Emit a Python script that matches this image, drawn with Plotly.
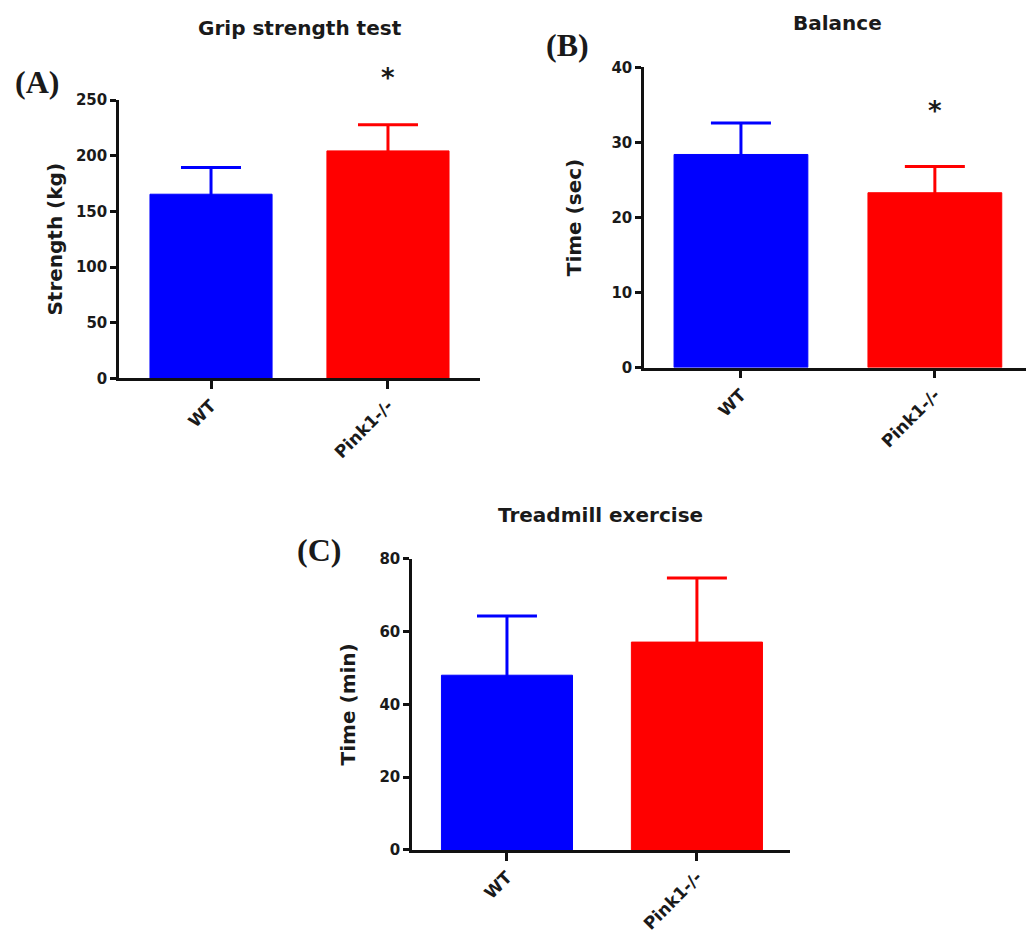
import plotly.graph_objects as go

categories = ["WT", "Pink1-/-"]
bar_colors = ["#0000ff", "#ff0000"]

grip_mean = [165.5, 204.4]
grip_sem = [24.0, 23.4]

balance_mean = [28.4, 23.3]
balance_sem = [4.2, 3.5]

treadmill_mean = [48.0, 57.1]
treadmill_sem = [16.3, 17.6]

grip_ticks = [0, 50, 100, 150, 200, 250]
balance_ticks = [0, 10, 20, 30, 40]
treadmill_ticks = [0, 20, 40, 60, 80]

# significance marker heights (data units)
grip_star = 269.6
balance_star = 34.2

FONT = "DejaVu Sans, Arial, sans-serif"
TXT = "#1a1a1a"
W, H = 1026, 934
VS, VOFF = 0.975, 9.0  # vertical compensation


def px(x):
    return x / W


def py(y):
    return 1 - ((y - VOFF) / VS) / H


fig = go.Figure()

panels = [
    ("x", "y", grip_mean, grip_sem),
    ("x2", "y2", balance_mean, balance_sem),
    ("x3", "y3", treadmill_mean, treadmill_sem),
]
for xa, ya, means, sems in panels:
    for cat, m, s, col in zip(categories, means, sems, bar_colors):
        fig.add_trace(go.Bar(
            x=[cat], y=[m], xaxis=xa, yaxis=ya,
            width=0.69,
            marker=dict(color=col, line=dict(color=col, width=1)),
            error_y=dict(type="data", symmetric=True, array=[s],
                         color=col, thickness=3, width=30),
            showlegend=False,
        ))


def xaxis_cfg(domain, rng, anchor):
    return dict(domain=domain, range=rng, anchor=anchor, type="category",
                showline=True, linecolor="#111", linewidth=2.5,
                ticks="outside", ticklen=8, tickwidth=2.5, tickcolor="#111",
                tickangle=-45, showgrid=False, zeroline=False,
                tickfont=dict(family=FONT, size=17, color=TXT, weight="bold"))


def yaxis_cfg(domain, rng, ticks, title, anchor, standoff):
    return dict(domain=domain, range=rng, anchor=anchor,
                tickvals=ticks, ticktext=[str(t) for t in ticks],
                showline=True, linecolor="#111", linewidth=2.5,
                ticks="outside", ticklen=6, tickwidth=2.5, tickcolor="#111",
                showgrid=False, zeroline=False,
                tickfont=dict(family=FONT, size=15, color=TXT, weight="bold"),
                title=dict(text=title, standoff=standoff,
                           font=dict(family=FONT, size=20, color=TXT, weight="bold")))


grip_range = [0, 250]
balance_range = [0, 40]
treadmill_range = [0, 80]

fig.update_layout(
    width=W, height=H,
    margin=dict(l=0, r=0, t=0, b=0),
    paper_bgcolor="white", plot_bgcolor="white",
    xaxis=xaxis_cfg([px(119), px(480)], [-0.52, 1.52], "y"),
    yaxis=yaxis_cfg([py(382), py(101)], grip_range, grip_ticks, "Strength (kg)", "x", 8),
    xaxis2=xaxis_cfg([px(644), 1.0], [-0.5, 1.47], "y2"),
    yaxis2=yaxis_cfg([py(371), py(68)], balance_range, balance_ticks, "Time (sec)", "x2", 25),
    xaxis3=xaxis_cfg([px(412), px(790)], [-0.5, 1.49], "y3"),
    yaxis3=yaxis_cfg([py(858), py(564)], treadmill_range, treadmill_ticks, "Time (min)", "x3", 19),
)

ann = []
titles = [("Grip strength test", 300, 28),
          ("Balance", 837, 23.5),
          ("Treadmill exercise", 600, 520)]
for t, x, y in titles:
    ann.append(dict(text=t, x=px(x), y=py(y), xref="paper", yref="paper", showarrow=False,
                    xanchor="center", yanchor="middle",
                    font=dict(family=FONT, size=20, color=TXT, weight="bold")))
letters = [("(A)", 37, 83), ("(B)", 567, 45), ("(C)", 319, 555)]
for t, x, y in letters:
    ann.append(dict(text=t, x=px(x), y=py(y), xref="paper", yref="paper", showarrow=False,
                    xanchor="center", yanchor="middle",
                    font=dict(family="Liberation Serif, Times New Roman, serif", size=32,
                              color=TXT, weight="bold")))
# significance markers
ann.append(dict(text="*", x=categories[1], y=grip_star / grip_range[1], xref="x", yref="y domain",
                showarrow=False, yanchor="middle",
                font=dict(family=FONT, size=26, color=TXT, weight="bold")))
ann.append(dict(text="*", x=categories[1], y=balance_star / balance_range[1], xref="x2", yref="y2 domain",
                showarrow=False, yanchor="middle",
                font=dict(family=FONT, size=26, color=TXT, weight="bold")))
fig.update_layout(annotations=ann)

fig.write_html("out.html")
